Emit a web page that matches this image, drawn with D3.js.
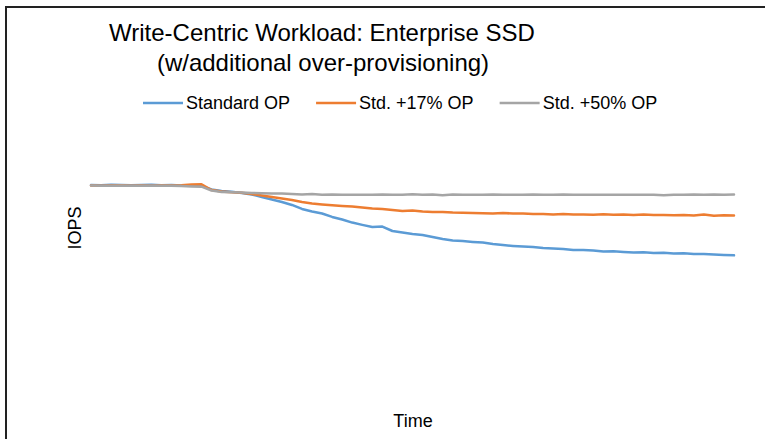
<!DOCTYPE html>
<html>
<head>
<meta charset="utf-8">
<script src="https://cdn.jsdelivr.net/npm/d3@7"></script>
<style>
  body { margin: 0; background: #fff; }
  text { font-family: "Liberation Sans", Arial, sans-serif; fill: #000; }
</style>
</head>
<body>
<div id="chart"></div>
<script>
// Data (relative IOPS, time steps 0..64)
var seriesNames = ["Standard OP", "Std. +17% OP", "Std. +50% OP"];
var seriesColors = ["#5B9BD5", "#ED7D31", "#A5A5A5"];

var standardOP = [100.0, 99.9, 100.1, 100.0, 99.9, 100.0, 100.1, 99.9, 100.0, 99.8,
  99.9, 99.5, 97.9, 97.1, 96.8, 96.2, 95.5, 94.3, 93.1, 91.9,
  90.5, 88.6, 87.4, 86.4, 84.8, 83.6, 82.1, 81.0, 80.0, 80.2,
  78.1, 77.4, 76.7, 76.2, 75.2, 74.3, 73.6, 73.3, 72.9, 72.6,
  71.9, 71.4, 71.0, 70.7, 70.5, 70.0, 69.8, 69.5, 69.0, 69.1,
  68.8, 68.3, 68.4, 68.1, 67.9, 68.0, 67.6, 67.7, 67.4, 67.5,
  67.1, 67.2, 66.9, 66.7, 66.5];

var op17 = [99.8, 99.7, 99.8, 99.9, 99.7, 99.8, 99.7, 99.8, 99.8, 99.9,
  100.2, 100.3, 97.6, 96.9, 96.5, 96.3, 95.7, 95.0, 94.3, 93.6,
  92.9, 91.9, 91.2, 90.7, 90.3, 90.0, 89.8, 89.3, 88.8, 88.6,
  88.1, 87.6, 87.9, 87.4, 87.1, 87.2, 86.9, 86.8, 86.7, 86.6,
  86.4, 86.7, 86.4, 86.4, 86.2, 86.2, 86.0, 86.2, 85.9, 86.0,
  85.8, 86.1, 85.8, 85.9, 85.7, 85.9, 85.7, 85.7, 85.6, 85.7,
  85.5, 86.0, 85.4, 85.6, 85.5];

var op50 = [99.8, 99.7, 99.7, 99.8, 99.7, 99.7, 99.6, 99.7, 99.6, 99.5,
  99.3, 99.2, 97.4, 96.7, 96.5, 96.4, 96.2, 96.1, 96.0, 95.9,
  95.7, 95.5, 95.7, 95.3, 95.5, 95.3, 95.3, 95.4, 95.3, 95.5,
  95.3, 95.4, 95.6, 95.4, 95.5, 95.1, 95.5, 95.3, 95.4, 95.3,
  95.5, 95.3, 95.4, 95.3, 95.5, 95.3, 95.4, 95.5, 95.3, 95.4,
  95.3, 95.4, 95.3, 95.3, 95.4, 95.3, 95.3, 95.1, 95.4, 95.3,
  95.5, 95.3, 95.5, 95.3, 95.5];

var allSeries = [standardOP, op17, op50];

var width = 765, height = 439;

var svg = d3.select("#chart").append("svg")
    .attr("width", width)
    .attr("height", height);

// frame (only top and left edges visible in the crop)
svg.append("rect")
    .attr("x", 6).attr("y", 7)
    .attr("width", width + 20).attr("height", height + 20)
    .attr("fill", "none")
    .attr("stroke", "#222")
    .attr("stroke-width", 2);

var x = d3.scaleLinear()
    .domain([0, standardOP.length - 1])
    .range([91, 734]);

var y = d3.scaleLinear()
    .domain([0, 120])
    .range([395, 143]);

// Title
svg.append("text")
    .attr("x", 322).attr("y", 41)
    .attr("text-anchor", "middle")
    .attr("font-size", 24)
    .text("Write-Centric Workload: Enterprise SSD");
svg.append("text")
    .attr("x", 323).attr("y", 71)
    .attr("text-anchor", "middle")
    .attr("font-size", 24)
    .text("(w/additional over-provisioning)");

// Legend
var legend = svg.append("g").attr("transform", "translate(143,103)");
var lx = 0;
seriesNames.forEach(function(name, i) {
  legend.append("line")
      .attr("x1", lx).attr("x2", lx + 40)
      .attr("y1", 0).attr("y2", 0)
      .attr("stroke", seriesColors[i])
      .attr("stroke-width", 2.5);
  var t = legend.append("text")
      .attr("x", lx + 43).attr("y", 6)
      .attr("font-size", 18)
      .text(name);
  lx += 43 + t.node().getComputedTextLength() + 26;
});

// Axis titles
svg.append("text")
    .attr("transform", "translate(81,228) rotate(-90)")
    .attr("text-anchor", "middle")
    .attr("font-size", 18)
    .text("IOPS");

svg.append("text")
    .attr("x", 413).attr("y", 427)
    .attr("text-anchor", "middle")
    .attr("font-size", 18)
    .text("Time");

// Lines
var line = d3.line()
    .x(function(d, i) { return x(i); })
    .y(function(d) { return y(d); });

svg.selectAll(".series")
    .data(allSeries)
  .enter().append("path")
    .attr("class", "series")
    .attr("d", line)
    .attr("fill", "none")
    .attr("stroke", function(d, i) { return seriesColors[i]; })
    .attr("stroke-width", 2.5)
    .attr("stroke-linejoin", "round")
    .attr("stroke-linecap", "round");
</script>
</body>
</html>
